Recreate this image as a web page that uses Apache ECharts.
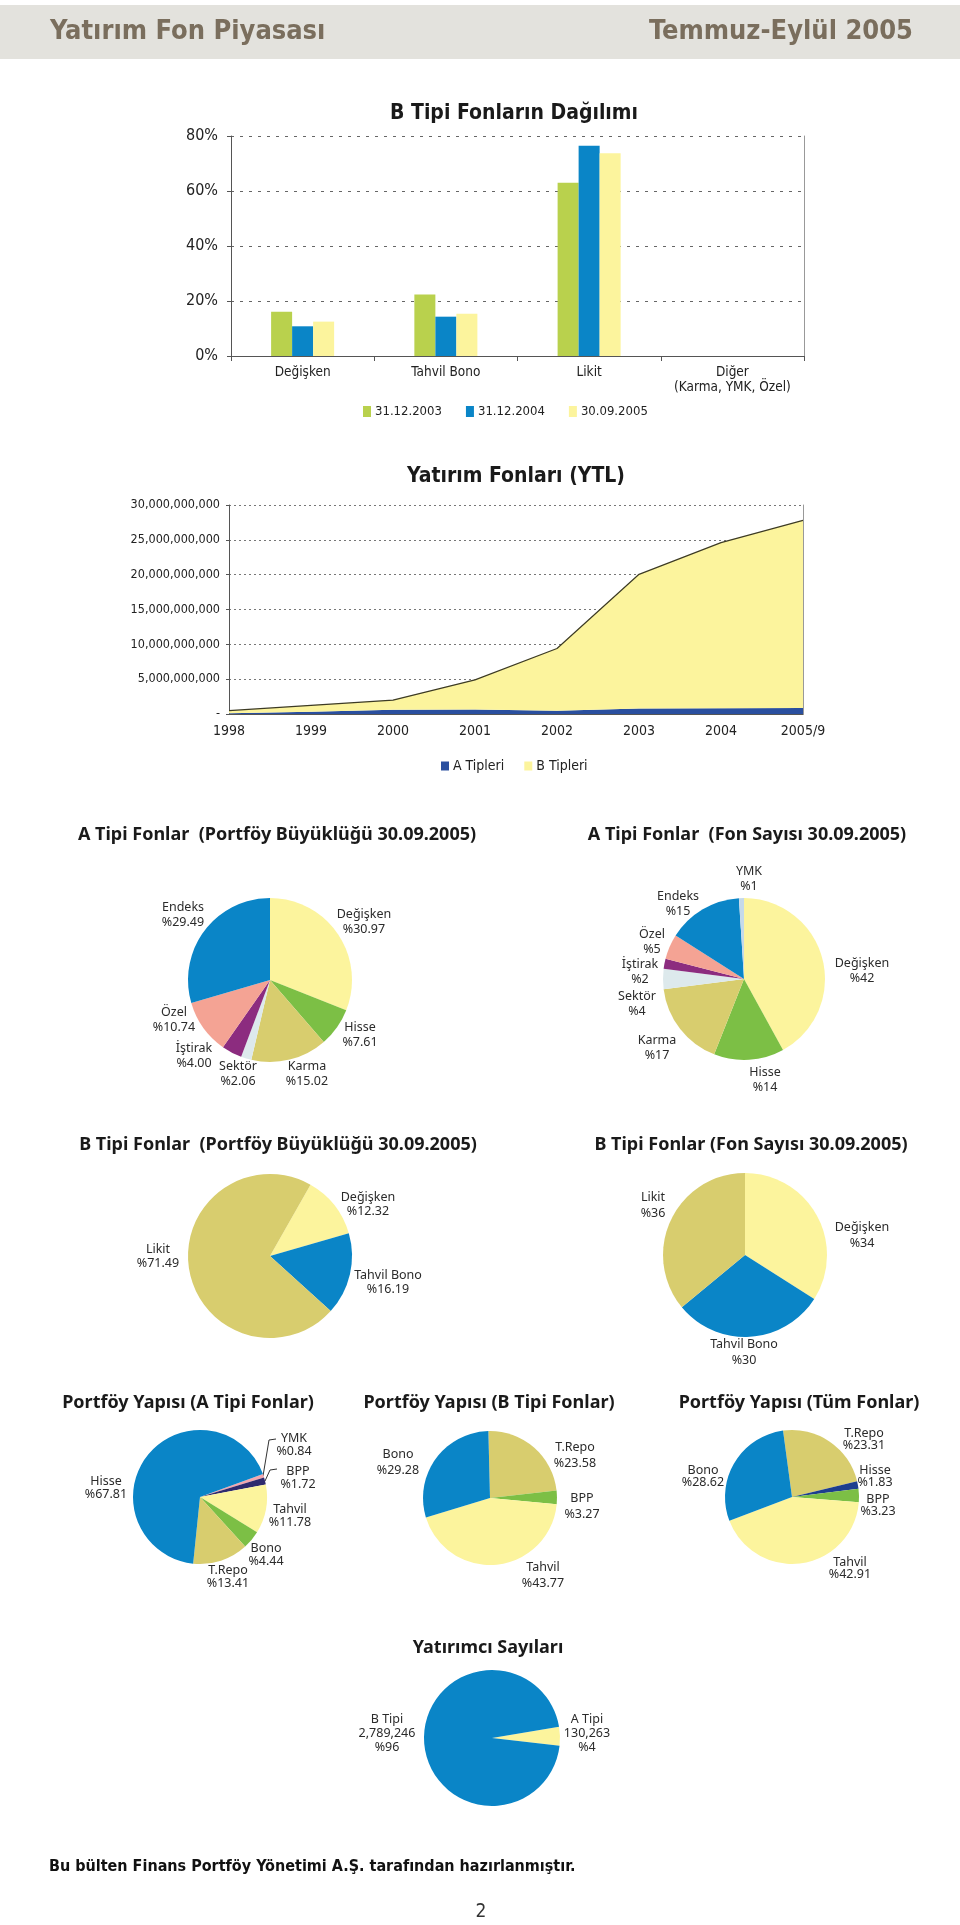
<!DOCTYPE html>
<html><head><meta charset="utf-8">
<script src="https://cdn.jsdelivr.net/npm/echarts@6/dist/echarts.min.js"></script>
<style>html,body{margin:0;padding:0;background:#fff}#c{width:960px;height:1925px}</style>
</head><body><div id="c"></div>
<script>
// ---------- DATA ----------
const barCategories = ['Değişken', 'Tahvil Bono', 'Likit', 'Diğer\n(Karma, YMK, Özel)'];
const barSeriesNames = ['31.12.2003', '31.12.2004', '30.09.2005'];
const bar2003 = [16.1, 22.4, 63.0, 0];
const bar2004 = [10.8, 14.3, 76.5, 0];
const bar2005 = [12.5, 15.4, 73.7, 0];
const barTicks = [0, 20, 40, 60, 80];

const years = ['1998', '1999', '2000', '2001', '2002', '2003', '2004', '2005/9'];
const areaSeriesNames = ['A Tipleri', 'B Tipleri'];
const aTipleri = [0.10e9, 0.33e9, 0.62e9, 0.65e9, 0.48e9, 0.80e9, 0.82e9, 0.86e9];
const bTipleri = [0.38e9, 0.91e9, 1.38e9, 4.25e9, 8.92e9, 19.25e9, 23.78e9, 26.94e9];
const areaTicks = [0, 5e9, 10e9, 15e9, 20e9, 25e9, 30e9];

const aPortfoyNames = ['Değişken', 'Hisse', 'Karma', 'Sektör', 'İştirak', 'Özel', 'Endeks'];
const aPortfoyValues = [30.97, 7.61, 15.02, 2.06, 4.00, 10.74, 29.49];
const aSayiNames = ['Değişken', 'Hisse', 'Karma', 'Sektör', 'İştirak', 'Özel', 'Endeks', 'YMK'];
const aSayiValues = [42, 14, 17, 4, 2, 5, 15, 1];
const bPortfoyNames = ['Değişken', 'Tahvil Bono', 'Likit'];
const bPortfoyValues = [12.32, 16.19, 71.49];
const bSayiNames = ['Değişken', 'Tahvil Bono', 'Likit'];
const bSayiValues = [34, 30, 36];
const yapiANames = ['YMK', 'BPP', 'Tahvil', 'Bono', 'T.Repo', 'Hisse'];
const yapiAValues = [0.84, 1.72, 11.78, 4.44, 13.41, 67.81];
const yapiBNames = ['T.Repo', 'BPP', 'Tahvil', 'Bono'];
const yapiBValues = [23.58, 3.27, 43.77, 29.28];
const yapiTumNames = ['T.Repo', 'Hisse', 'BPP', 'Tahvil', 'Bono'];
const yapiTumValues = [23.31, 1.83, 3.23, 42.91, 28.62];
const yatirimciNames = ['A Tipi', 'B Tipi'];
const yatirimciValues = [130263, 2789246];

// ---------- STYLE ----------
const NARROW = '"Liberation Sans Narrow", "DejaVu Sans Condensed", sans-serif';
const SANS = '"Noto Sans", "Open Sans", sans-serif';
const C = {
  yellow: '#fcf49d', blue: '#0a85c7', khaki: '#d8cd6e', green: '#7cbf45', salmon: '#f4a394',
  purple: '#8c2c7f', pale: '#dde9ec', ymk: '#c5d9ea', pink: '#f2a7ae', navyP: '#2e2a6e',
  navy: '#1d3e8e', barGreen: '#b9d14d', areaBlue: '#2a4f9f'
};

const pct2 = p => p.name + '\n%' + Number(p.value).toFixed(2);
const pct0 = p => p.name + '\n%' + p.value;

function makePie(cfg) {
  return {
    type: 'pie', center: cfg.center, radius: cfg.r, startAngle: cfg.startAngle, clockwise: true,
    avoidLabelOverlap: false, silent: true, animation: false,
    label: { show: true, position: 'outside', formatter: cfg.formatter, fontFamily: SANS,
      fontSize: 12.5, color: '#2b2b2b', lineHeight: cfg.lh || 15, align: 'center' },
    labelLine: { show: false },
    labelLayout: function (p) {
      const pos = cfg.labelPos[p.dataIndex];
      const res = { x: pos[0], y: pos[1], align: 'center', verticalAlign: 'middle' };
      if (cfg.lines && cfg.lines[p.dataIndex]) res.labelLinePoints = cfg.lines[p.dataIndex];
      return res;
    },
    itemStyle: { borderWidth: 0 },
    data: cfg.names.map((n, i) => {
      const d = { name: n, value: cfg.values[i], itemStyle: { color: cfg.colors[i] } };
      if (cfg.lines && cfg.lines[i]) d.labelLine = { show: true, lineStyle: { color: '#333', width: 1 } };
      return d;
    })
  };
}

const titleStyle = (x, y, text, font, fill) => ({
  type: 'text', x: x, y: y, silent: true,
  style: { text: text, font: font, fill: fill || '#1a1a1a', align: 'center', verticalAlign: 'middle' }
});

const option = {
  animation: false,
  backgroundColor: '#ffffff',
  graphic: [
    { type: 'rect', shape: { x: 0, y: 5, width: 960, height: 54 }, style: { fill: '#e3e2dd' }, silent: true },
    { type: 'text', x: 50, y: 32, style: { text: 'Yatırım Fon Piyasası', font: 'bold 27px ' + NARROW, fill: '#7a6e5d', align: 'left', verticalAlign: 'middle' } },
    { type: 'text', x: 913, y: 32, style: { text: 'Temmuz-Eylül 2005', font: 'bold 27px ' + NARROW, fill: '#7a6e5d', align: 'right', verticalAlign: 'middle' } },
    titleStyle(514, 114, 'B Tipi Fonların Dağılımı', 'bold 21px ' + NARROW),
    titleStyle(516, 477, 'Yatırım Fonları (YTL)', 'bold 21px ' + NARROW),
    titleStyle(277, 835, 'A Tipi Fonlar  (Portföy Büyüklüğü 30.09.2005)', 'bold 18px ' + SANS),
    titleStyle(747, 835, 'A Tipi Fonlar  (Fon Sayısı 30.09.2005)', 'bold 18px ' + SANS),
    titleStyle(278, 1145, 'B Tipi Fonlar  (Portföy Büyüklüğü 30.09.2005)', 'bold 18px ' + SANS),
    titleStyle(751, 1145, 'B Tipi Fonlar (Fon Sayısı 30.09.2005)', 'bold 18px ' + SANS),
    titleStyle(188, 1403, 'Portföy Yapısı (A Tipi Fonlar)', 'bold 18px ' + SANS),
    titleStyle(489, 1403, 'Portföy Yapısı (B Tipi Fonlar)', 'bold 18px ' + SANS),
    titleStyle(799, 1403, 'Portföy Yapısı (Tüm Fonlar)', 'bold 18px ' + SANS),
    titleStyle(488, 1648, 'Yatırımcı Sayıları', 'bold 18px ' + SANS),
    { type: 'text', x: 49, y: 1867, style: { text: 'Bu bülten Finans Portföy Yönetimi A.Ş. tarafından hazırlanmıştır.', font: 'bold 16px ' + NARROW, fill: '#111', align: 'left', verticalAlign: 'middle' } },
    titleStyle(481, 1912, '2', '19px ' + NARROW, '#333')
  ],
  legend: [
    { data: barSeriesNames, left: 358, top: 400, itemWidth: 8, itemHeight: 11, itemGap: 24,
      icon: 'rect', textStyle: { fontFamily: NARROW, fontSize: 13, color: '#222', padding: [0, 0, 0, -1] } },
    { data: areaSeriesNames, left: 436, top: 754, itemWidth: 8, itemHeight: 9, itemGap: 20,
      icon: 'rect', textStyle: { fontFamily: NARROW, fontSize: 14, color: '#222', padding: [0, 0, 0, -1] } }
  ],
  grid: [
    { left: 231, top: 136, width: 573, height: 220, outerBoundsMode: 'none', containLabel: false },
    { left: 229, top: 505, width: 574, height: 209, outerBoundsMode: 'none', containLabel: false }
  ],
  xAxis: [
    { type: 'category', gridIndex: 0, data: barCategories,
      axisLine: { lineStyle: { color: '#555', width: 1.2 } },
      axisTick: { show: true, length: 5, interval: 0, lineStyle: { color: '#555' } },
      axisLabel: { fontFamily: NARROW, fontSize: 13.5, color: '#222', margin: 9, lineHeight: 15, interval: 0 } },
    { type: 'category', gridIndex: 1, data: years, boundaryGap: false,
      axisLine: { lineStyle: { color: '#555', width: 1.2 } },
      axisTick: { show: false },
      axisLabel: { fontFamily: NARROW, fontSize: 14, color: '#222', margin: 10 } }
  ],
  yAxis: [
    { type: 'value', gridIndex: 0, min: barTicks[0], max: barTicks[barTicks.length - 1],
      interval: barTicks[1] - barTicks[0],
      axisLine: { show: true, lineStyle: { color: '#555' } },
      axisTick: { show: true, length: 4, lineStyle: { color: '#555' } },
      axisLabel: { formatter: '{value}%', fontFamily: NARROW, fontSize: 16, color: '#222', margin: 13 },
      splitLine: { show: true, lineStyle: { color: '#666', type: [3, 6], width: 1 } } },
    { type: 'value', gridIndex: 0, position: 'right', min: barTicks[0], max: barTicks[barTicks.length - 1],
      axisLine: { show: true, lineStyle: { color: '#999' } }, axisTick: { show: false },
      axisLabel: { show: false }, splitLine: { show: false } },
    { type: 'value', gridIndex: 1, min: areaTicks[0], max: areaTicks[areaTicks.length - 1],
      interval: areaTicks[1] - areaTicks[0],
      axisLine: { show: true, lineStyle: { color: '#555' } },
      axisTick: { show: true, length: 3, lineStyle: { color: '#555' } },
      axisLabel: { formatter: v => v === 0 ? '-' : v.toLocaleString('en-US'), fontFamily: NARROW, fontSize: 12.5, color: '#222', margin: 9 },
      splitLine: { show: true, lineStyle: { color: '#777', type: [2, 3], width: 1 } } },
    { type: 'value', gridIndex: 1, position: 'right', min: areaTicks[0], max: areaTicks[areaTicks.length - 1],
      axisLine: { show: true, lineStyle: { color: '#999' } }, axisTick: { show: false },
      axisLabel: { show: false }, splitLine: { show: false } }
  ],
  series: [
    { name: barSeriesNames[0], type: 'bar', xAxisIndex: 0, yAxisIndex: 0, data: bar2003,
      itemStyle: { color: C.barGreen }, barGap: '0%', barCategoryGap: '56%', silent: true },
    { name: barSeriesNames[1], type: 'bar', xAxisIndex: 0, yAxisIndex: 0, data: bar2004,
      itemStyle: { color: C.blue }, barGap: '0%', barCategoryGap: '56%', silent: true },
    { name: barSeriesNames[2], type: 'bar', xAxisIndex: 0, yAxisIndex: 0, data: bar2005,
      itemStyle: { color: C.yellow }, barGap: '0%', barCategoryGap: '56%', silent: true },
    { name: areaSeriesNames[0], type: 'line', xAxisIndex: 1, yAxisIndex: 2, stack: 'fon', data: aTipleri,
      symbol: 'none', lineStyle: { width: 0 }, areaStyle: { color: C.areaBlue, opacity: 1 },
      itemStyle: { color: C.areaBlue }, silent: true },
    { name: areaSeriesNames[1], type: 'line', xAxisIndex: 1, yAxisIndex: 2, stack: 'fon', data: bTipleri,
      symbol: 'none', lineStyle: { width: 1.2, color: '#3d3b25' }, areaStyle: { color: C.yellow, opacity: 1 },
      itemStyle: { color: C.yellow }, silent: true },

    makePie({ center: [270, 980], r: 82, startAngle: 90, names: aPortfoyNames, values: aPortfoyValues,
      colors: [C.yellow, C.green, C.khaki, C.pale, C.purple, C.salmon, C.blue], formatter: pct2, lh: 15,
      labelPos: [[364, 922], [360, 1035], [307, 1074], [238, 1074], [194, 1056], [174, 1020], [183, 915]] }),
    makePie({ center: [744, 979], r: 81, startAngle: 90, names: aSayiNames, values: aSayiValues,
      colors: [C.yellow, C.green, C.khaki, C.pale, C.purple, C.salmon, C.blue, C.ymk], formatter: pct0, lh: 15,
      labelPos: [[862, 971], [765, 1080], [657, 1048], [637, 1004], [640, 972], [652, 942], [678, 904], [749, 879]] }),
    makePie({ center: [270, 1256], r: 82, startAngle: 60.4, names: bPortfoyNames, values: bPortfoyValues,
      colors: [C.yellow, C.blue, C.khaki], formatter: pct2, lh: 14,
      labelPos: [[368, 1204], [388, 1282], [158, 1256]] }),
    makePie({ center: [745, 1255], r: 82, startAngle: 90, names: bSayiNames, values: bSayiValues,
      colors: [C.yellow, C.blue, C.khaki], formatter: pct0, lh: 16,
      labelPos: [[862, 1235], [744, 1352], [653, 1205]] }),
    makePie({ center: [200, 1497], r: 67, startAngle: 20, names: yapiANames, values: yapiAValues,
      colors: [C.pink, C.navyP, C.yellow, C.green, C.khaki, C.blue], formatter: pct2, lh: 13,
      labelPos: [[294, 1445], [298, 1478], [290, 1516], [266, 1555], [228, 1577], [106, 1488]],
      lines: [[[263, 1476], [269, 1440], [276, 1439]], [[265, 1481], [270, 1470], [277, 1469]], null, null, null, null] }),
    makePie({ center: [490, 1498], r: 67, startAngle: 91.4, names: yapiBNames, values: yapiBValues,
      colors: [C.khaki, C.green, C.yellow, C.blue], formatter: pct2, lh: 16,
      labelPos: [[575, 1455], [582, 1506], [543, 1575], [398, 1462]] }),
    makePie({ center: [792, 1497], r: 67, startAngle: 97.7, names: yapiTumNames, values: yapiTumValues,
      colors: [C.khaki, C.navy, C.green, C.yellow, C.blue], formatter: pct2, lh: 12,
      labelPos: [[864, 1439], [875, 1476], [878, 1505], [850, 1568], [703, 1476]] }),
    makePie({ center: [492, 1738], r: 68, startAngle: 9.6, names: yatirimciNames, values: yatirimciValues,
      colors: [C.yellow, C.blue], lh: 14,
      formatter: p => p.name + '\n' + p.value.toLocaleString('en-US') + '\n%' + Math.round(p.percent),
      labelPos: [[587, 1733], [387, 1733]] })
  ]
};

const chart = echarts.init(document.getElementById('c'), null, { renderer: 'canvas', width: 960, height: 1925 });
chart.setOption(option);
</script></body></html>
